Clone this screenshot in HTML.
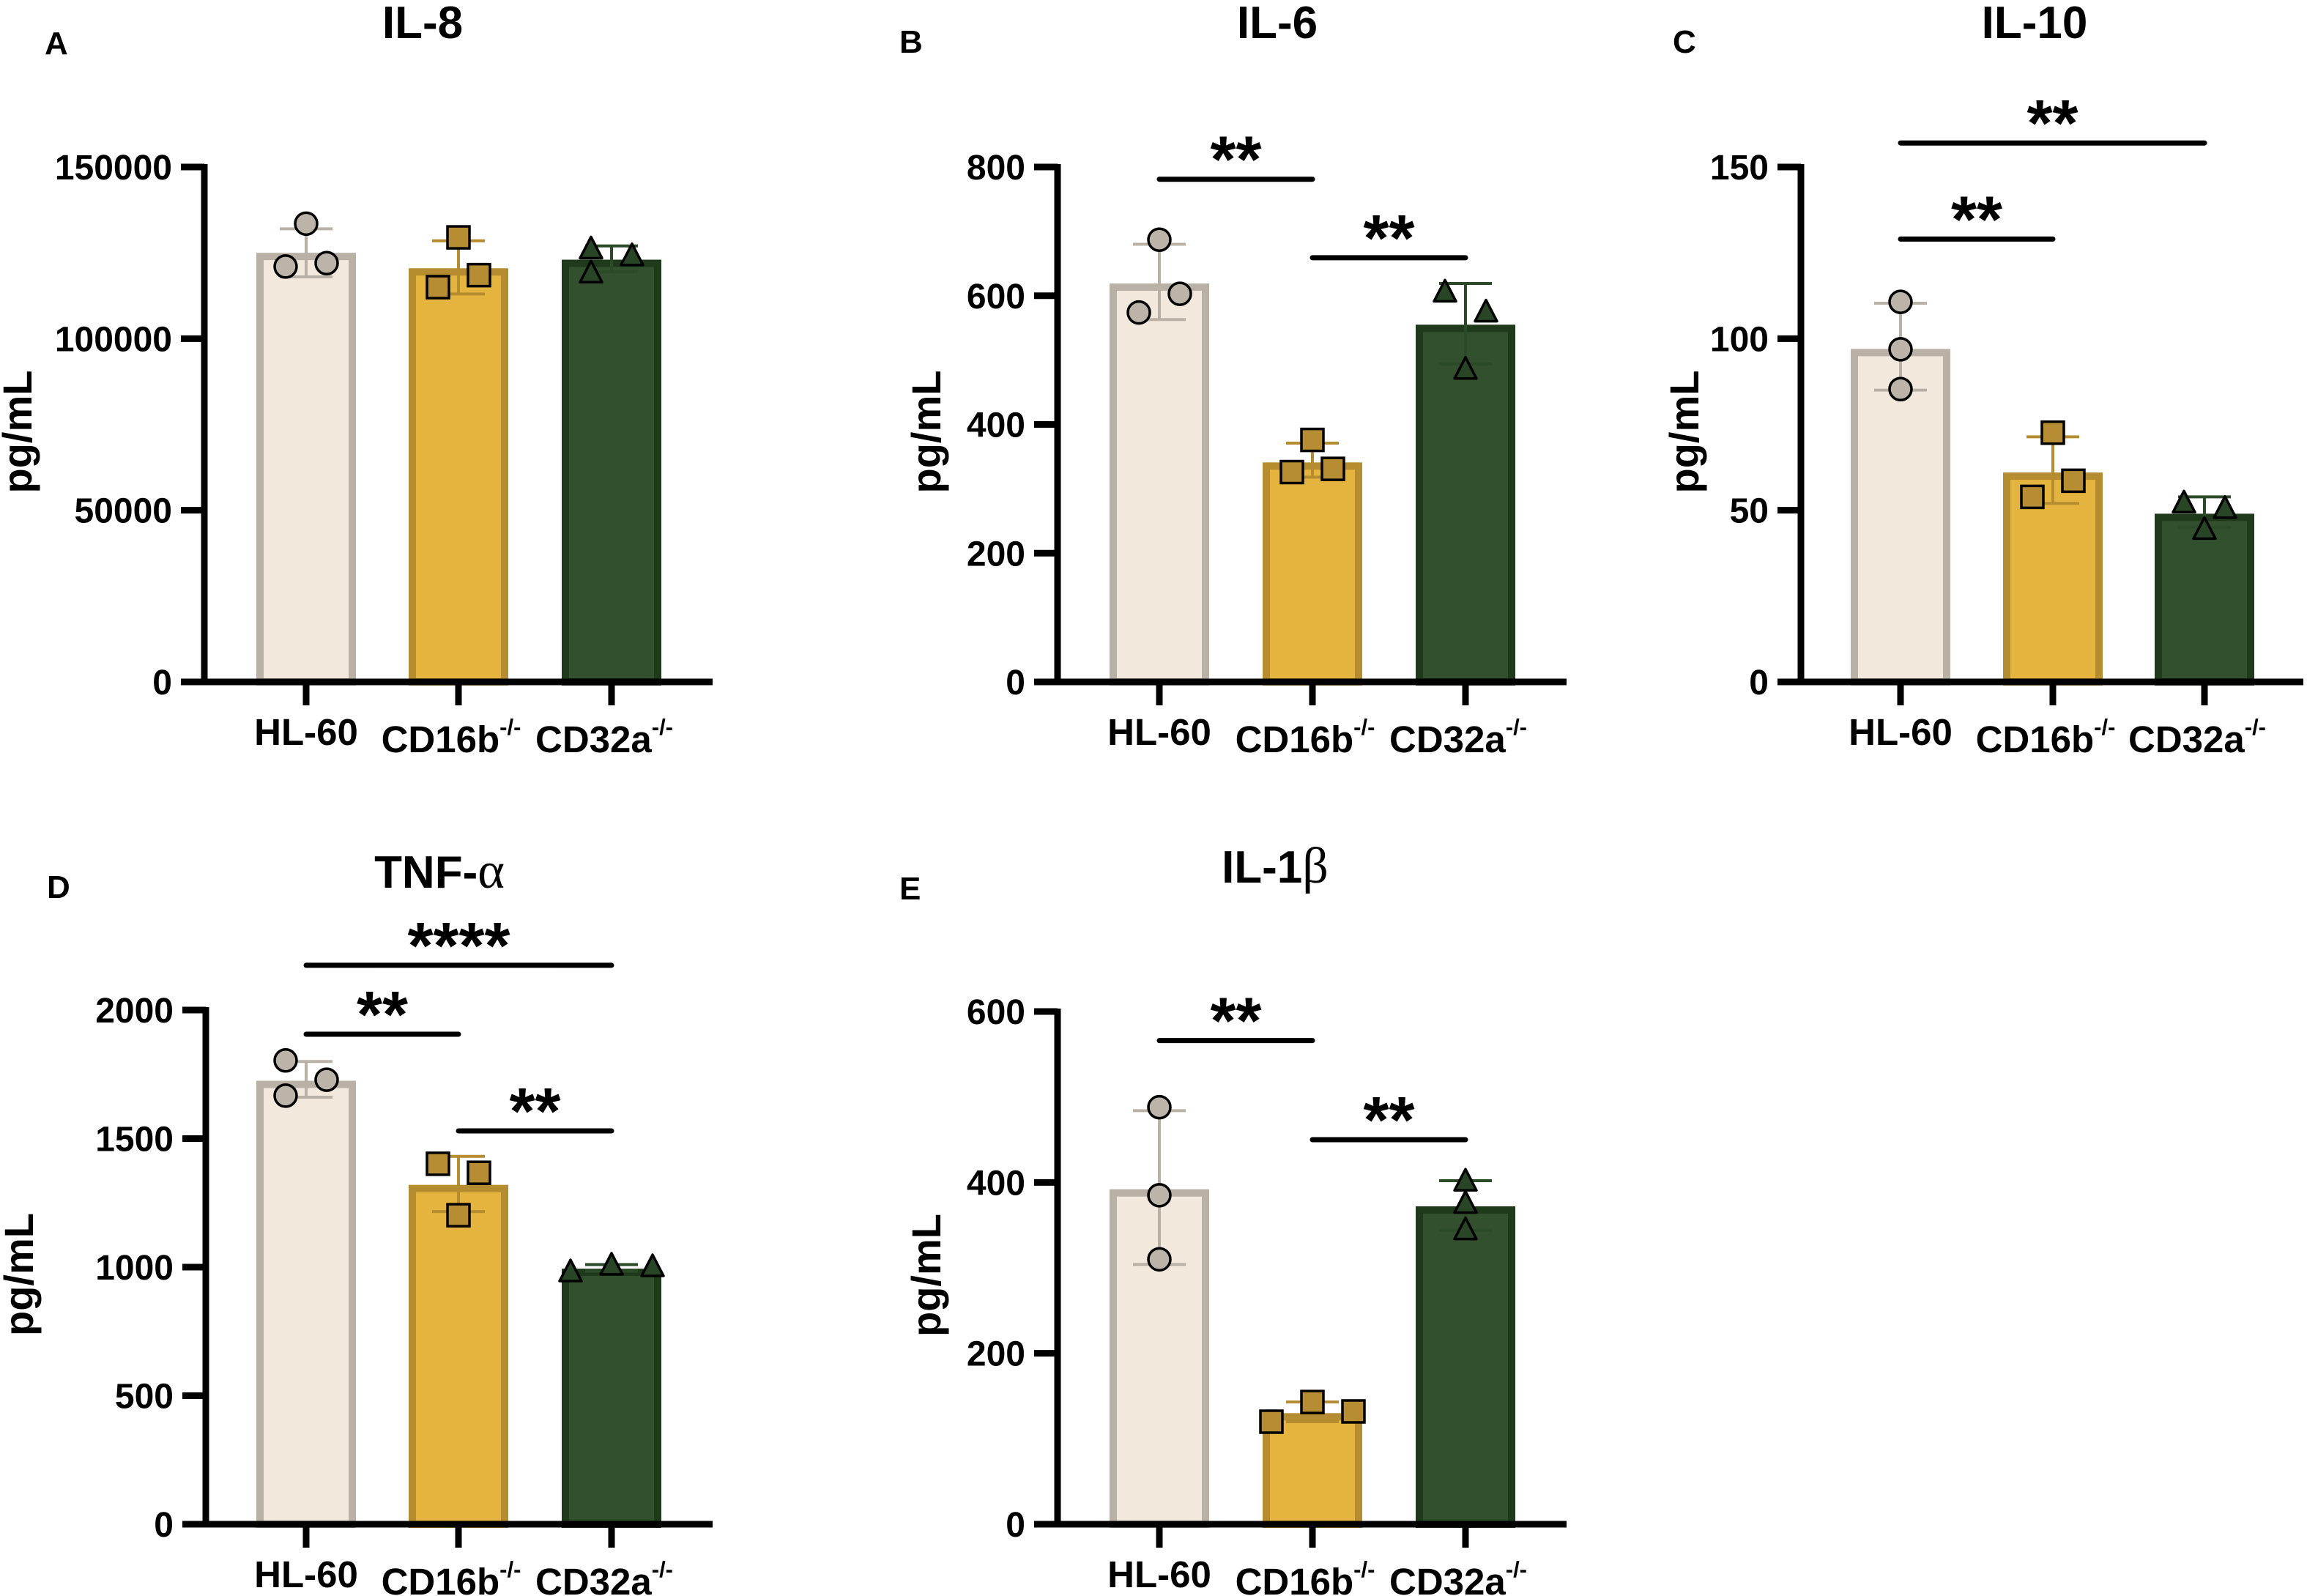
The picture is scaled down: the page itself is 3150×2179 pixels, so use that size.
<!DOCTYPE html>
<html><head><meta charset="utf-8">
<style>
html,body{margin:0;padding:0;background:#fff;}
svg{display:block;}
text{font-family:"Liberation Sans",Arial,sans-serif;font-weight:bold;fill:#000;}
</style></head>
<body>
<svg id="fig" xmlns="http://www.w3.org/2000/svg" width="3150" height="2179" viewBox="0 0 3150 2179"></svg>
<script>
// ---- data ----
const categories = ["HL-60", "CD16b", "CD32a"];
// Panel A IL-8
const aMeans = [125000, 120500, 123000];
const aPoints = [[133500, 121000, 122000], [129500, 115000, 118500], [126000, 119000, 124000]];
const aErr = [[118000, 132000], [113000, 128500], [119500, 127000]];
const aTicks = [0, 50000, 100000, 150000];
// Panel B IL-6
const bMeans = [619, 341, 555];
const bPoints = [[687, 603, 574], [376, 326, 331], [605, 574, 485]];
const bErr = [[563, 680], [318, 371], [494, 619]];
const bTicks = [0, 200, 400, 600, 800];
// Panel C IL-10
const cMeans = [97, 61, 49];
const cPoints = [[110.7, 96.9, 85.3], [72.6, 58.6, 53.9], [52, 50.4, 44.3]];
const cErr = [[85, 110.3], [52, 71.4], [45, 53.9]];
const cTicks = [0, 50, 100, 150];
// Panel D TNF-a
const dMeans = [1725, 1320, 994];
const dPoints = [[1804, 1667, 1729], [1402, 1367, 1202], [980, 1006, 1000]];
const dErr = [[1661, 1800], [1216, 1431], [985, 1010]];
const dTicks = [0, 500, 1000, 1500, 2000];
// Panel E IL-1b
const eMeans = [392, 130, 372];
const ePoints = [[488, 385, 310], [143, 120, 132], [401, 375, 344]];
const eErr = [[304, 484], [120, 143], [344, 402]];
const eTicks = [0, 200, 400, 600];
// significance brackets: [fromIndex, toIndex, value-level, label]
const bSig = [[0, 1, 781, "**"], [1, 2, 659, "**"]];
const cSig = [[0, 2, 157, "**"], [0, 1, 129, "**"]];
const dSig = [[0, 2, 2174, "****"], [0, 1, 1906, "**"], [1, 2, 1530, "**"]];
const eSig = [[0, 1, 566, "**"], [1, 2, 450, "**"]];

// ---- styles/layout ----
const NS = "http://www.w3.org/2000/svg";
const svg = document.getElementById("fig");
const fills = ["#f2e8dc", "#e5b43f", "#33502e"];
const edges = ["#bab1a6", "#b58c30", "#1e3a1b"];
const mfill = ["#bcb3a9", "#b68d33", "#284526"];
const markers = ["circle", "square", "triangle"];

function el(tag, attrs, parent) {
  const e = document.createElementNS(NS, tag);
  for (const k in attrs) e.setAttribute(k, attrs[k]);
  (parent || svg).appendChild(e);
  return e;
}

function panel(cfg) {
  const g = el("g", {});
  
  
  const y0 = cfg.y0, y1 = cfg.ytop, vmax = cfg.ticks[cfg.ticks.length - 1];
  const Y = v => y0 - (v / vmax) * (y0 - y1);
  const X = i => cfg.centers[i];
  const bw = 136;
  cfg.means.forEach((m, i) => {
    const r = el("rect", {x: X(i) - bw / 2 + 5, y: Y(m) + 5, width: bw - 10, height: y0 - Y(m) - 5,
      fill: fills[i], stroke: edges[i], "stroke-width": 10}, g);
    
    
  });
  cfg.err.forEach((e, i) => {
    const eg = el("g", {stroke: i === 2 ? "#2a4a28" : edges[i], "stroke-width": 4}, g);
    
    
    el("line", {x1: X(i), x2: X(i), y1: Y(e[0]), y2: Y(e[1])}, eg);
    el("line", {x1: X(i) - 36, x2: X(i) + 36, y1: Y(e[0]), y2: Y(e[0])}, eg);
    el("line", {x1: X(i) - 36, x2: X(i) + 36, y1: Y(e[1]), y2: Y(e[1])}, eg);
  });
  cfg.points.forEach((pts, i) => {
    pts.forEach((v, k) => {
      const cx = X(i) + cfg.jitter[i][k], cy = Y(v);
      let m;
      if (markers[i] === "circle") m = el("circle", {cx, cy, r: 15, fill: mfill[i], stroke: "#000", "stroke-width": 3.5}, g);
      else if (markers[i] === "square") m = el("rect", {x: cx - 15, y: cy - 15, width: 30, height: 30, fill: mfill[i], stroke: "#000", "stroke-width": 3.5}, g);
      else m = el("polygon", {points: `${cx},${cy - 17} ${cx + 15},${cy + 12} ${cx - 15},${cy + 12}`, fill: mfill[i], stroke: "#000", "stroke-width": 3.5, "stroke-linejoin": "round"}, g);
      
      
    });
  });
  const ax = el("g", {stroke: "#000", "stroke-width": 9}, g);
  
  
  el("line", {x1: cfg.ax, x2: cfg.ax, y1: y1 - 4, y2: y0 + 4}, ax);
  el("line", {x1: cfg.ax - 32, x2: cfg.axEnd, y1: y0, y2: y0}, ax);
  cfg.ticks.forEach(t => {
    el("line", {x1: cfg.ax - 32, x2: cfg.ax, y1: Y(t), y2: Y(t)}, ax);
    const tx = el("text", {x: cfg.ax - 44, y: Y(t) + 17, "text-anchor": "end", "font-size": 48}, g);
    tx.textContent = t;
    
    
  });
  categories.forEach((c, i) => {
    el("line", {x1: X(i), x2: X(i), y1: y0, y2: y0 + 32}, ax);
    const tx = el("text", {x: X(i) + (i ? -10 : 0), y: y0 + (i ? 96 : 86), "text-anchor": "middle", "font-size": 51}, g);
    tx.textContent = i === 0 ? "HL-60" : c;
    if (i) {
      const ts = el("tspan", {dy: -24, "font-size": 31}, tx);
      ts.textContent = "-/-";
    }
    
    
  });
  const yt = el("text", {x: 0, y: 0, "text-anchor": "middle", "font-size": 56,
    transform: `translate(${cfg.ax - cfg.ytOff},${(y0 + y1) / 2 + 10}) rotate(-90)`}, g);
  yt.textContent = "pg/mL";
  
  
  const tt = el("text", {x: cfg.titleX, y: cfg.titleY, "text-anchor": "middle", "font-size": 62}, g);
  tt.textContent = cfg.title;
  if (cfg.greek) {
    const gs = el("tspan", {"font-family": "Liberation Serif, serif", "font-weight": "normal", "font-size": 70}, tt);
    gs.textContent = cfg.greek;
  }
  
  
  const lt = el("text", {x: cfg.letterX, y: cfg.letterY, "font-size": 44}, g);
  lt.textContent = cfg.letter;
  
  
  cfg.sig.forEach(s => {
    const sy = Y(s[2]);
    const ln = el("line", {x1: X(s[0]), x2: X(s[1]), y1: sy, y2: sy, stroke: "#000", "stroke-width": 7, "stroke-linecap": "round"}, g);
    
    
    const st = el("text", {x: (X(s[0]) + X(s[1])) / 2, y: sy + 4, "text-anchor": "middle", "font-size": 90}, g);
    st.textContent = s[3];
    
    
  });
}

panel({letter: "A", letterX: 61, letterY: 74, title: "IL-8", titleX: 577, titleY: 52,
  ax: 279, axEnd: 973, y0: 931, ytop: 228, centers: [418, 626, 835], ytOff: 236,
  means: aMeans, points: aPoints, err: aErr, ticks: aTicks, sig: [],
  jitter: [[0, -28, 28], [0, -28, 28], [-28, -28, 28]]});
panel({letter: "B", letterX: 1228, letterY: 72, title: "IL-6", titleX: 1744, titleY: 52,
  ax: 1444, axEnd: 2139, y0: 931, ytop: 228, centers: [1583, 1792, 2001], ytOff: 160,
  means: bMeans, points: bPoints, err: bErr, ticks: bTicks, sig: bSig,
  jitter: [[0, 28, -28], [0, -28, 28], [-28, 28, 0]]});
panel({letter: "C", letterX: 2284, letterY: 72, title: "IL-10", titleX: 2778, titleY: 52,
  ax: 2459, axEnd: 3145, y0: 931, ytop: 228, centers: [2595, 2803, 3010], ytOff: 140,
  means: cMeans, points: cPoints, err: cErr, ticks: cTicks, sig: cSig,
  jitter: [[0, 0, 0], [0, 28, -28], [-28, 28, 0]]});
panel({letter: "D", letterX: 64, letterY: 1226, title: "TNF-", greek: "α", titleX: 600, titleY: 1212,
  ax: 281, axEnd: 973, y0: 2081, ytop: 1379, centers: [418, 626, 835], ytOff: 236,
  means: dMeans, points: dPoints, err: dErr, ticks: dTicks, sig: dSig,
  jitter: [[-28, -28, 28], [-28, 28, 0], [-56, 0, 56]]});
panel({letter: "E", letterX: 1228, letterY: 1228, title: "IL-1", greek: "β", titleX: 1741, titleY: 1205,
  ax: 1444, axEnd: 2139, y0: 2081, ytop: 1381, centers: [1583, 1792, 2001], ytOff: 160,
  means: eMeans, points: ePoints, err: eErr, ticks: eTicks, sig: eSig,
  jitter: [[0, 0, 0], [0, -56, 56], [0, 0, 0]]});
</script>
</body></html>
